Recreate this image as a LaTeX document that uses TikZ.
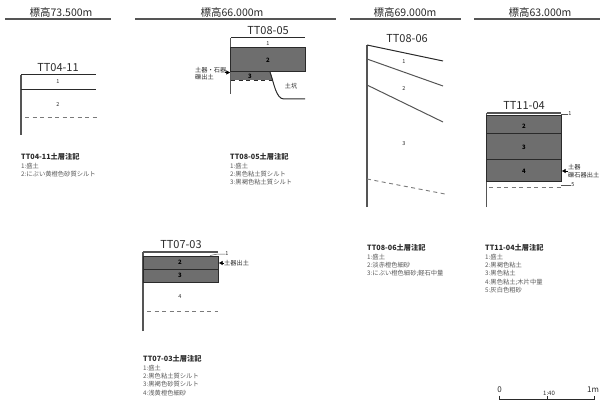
\documentclass[tikz,border=0pt]{standalone}
\usepackage{fontspec}
\setmainfont{Noto Sans CJK JP}
\usetikzlibrary{arrows.meta}
\definecolor{soil}{HTML}{6E6E6E}
\definecolor{ink}{HTML}{2A2A2A}
\definecolor{rule}{HTML}{555555}
\definecolor{cut}{HTML}{7A7A7A}
\tikzset{
  header/.style={font=\fontsize{10.5}{12}\selectfont,text=ink,inner sep=0pt},
  title/.style={font=\fontsize{11}{13}\selectfont,text=ink,inner sep=0pt},
  headline/.style={draw=rule,line width=1.2pt},
  axisline/.style={draw=rule,line width=1.2pt},
  layerline/.style={draw=ink,line width=1pt},
  cutline/.style={draw=cut,line width=.9pt,dash pattern=on 4pt off 3.5pt},
  darkbed/.style={fill=soil,draw=ink,line width=1pt},
  num/.style={font=\fontsize{5.5}{6}\selectfont,text=ink,inner sep=0pt},
  numb/.style={font=\fontsize{6}{6}\selectfont\bfseries,text=black,inner sep=0pt},
  note/.style={font=\fontsize{6.2}{7.6}\selectfont,text=ink,inner sep=0pt,align=left},
  findnote/.style={note,anchor=west,font=\fontsize{6.2}{7.4}\selectfont},
  legendhead/.style={font=\fontsize{7.2}{8}\selectfont\bfseries,text=ink,inner sep=0pt,anchor=west},
  legendbody/.style={font=\fontsize{6.3}{8.4}\selectfont,text=black!65,inner sep=0pt,anchor=north west,align=left},
  leader/.style={draw=rule,line width=.5pt},
  pointer/.style={-{Triangle[length=3.6pt,width=4pt]},draw=black,line width=.5pt},
}
\begin{document}
\begin{tikzpicture}[x=1pt,y=-1pt]
\useasboundingbox (0,0) rectangle (600,401);
% headers
\node[header] (h1) at (61,13) {標高73.500m};
\node[header] (h2) at (232,13) {標高66.000m};
\node[header] (h3) at (405,13) {標高69.000m};
\node[header] (h4) at (540,13) {標高63.000m};
\draw[headline] (5,19) -- (111,19);
\draw[headline] (135,19) -- (336,19);
\draw[headline] (350,19) -- (461,19);
\draw[headline] (474,19) -- (600,19);

% TT04-11
\node[title] (t1) at (58,68) {TT04-11};
\draw[axisline] (21,135) -- (21,75);
\draw[layerline] (21,75) -- (96,75);
\draw[layerline] (21,90) -- (96,90);
\draw[cutline] (25,117) -- (97,117);
\node[num] (a1) at (58,82) {1};
\node[num] (a2) at (58,105) {2};
\node[legendhead] (l1) at (21,157) {TT04-11土層注記};
\node[legendbody] (b1) at (21,162.5) {1:盛土\\2:にぶい黄橙色砂質シルト};

% TT08-05
\node[title] (t2) at (268,31) {TT08-05};
\draw[axisline] (230.5,94) -- (230.5,38);
\draw[layerline] (230.5,38) -- (305,38);
\fill[soil] (230.5,72) -- (270,72) -- (273,80) -- (230.5,80) -- cycle;
\draw[darkbed] (230.5,48) rectangle (305,72);
\draw[cutline,draw=ink] (231,80) -- (273,80);
\draw[layerline] (270,72) .. controls (274,83) and (276,99) .. (284,99) -- (305,99);
\node[num] (b21) at (268,44) {1};
\node[numb] (b22) at (268,60) {2};
\node[numb] (b23) at (250,76) {3};
\node[note] (pit) at (291,86) {土坑};
\node[findnote] (find2) at (195,73.5) {土器・石器\\礫出土};
\coordinate (find2tail) at (225,72.5);
\coordinate (find2tip) at (230,72.5);
\draw[pointer] (find2tail) -- (find2tip);
\node[legendhead] (l2) at (230,157) {TT08-05土層注記};
\node[legendbody] (b2) at (230,162.5) {1:盛土\\2:黒色粘土質シルト\\3:黒褐色粘土質シルト};

% TT08-06
\node[title] (t3) at (407,39) {TT08-06};
\draw[axisline] (367,207) -- (367,45);
\draw[layerline] (367,45) -- (443,61);
\draw[layerline,draw=rule] (367,59) -- (443,86);
\draw[layerline,draw=rule] (367,85) -- (443,122);
\draw[cutline] (367,179) -- (445,194);
\node[num] (c1) at (404,62) {1};
\node[num] (c2) at (404,89) {2};
\node[num] (c3) at (404,144) {3};
\node[legendhead] (l3) at (367,248) {TT08-06土層注記};
\node[legendbody] (b3) at (367,253.5) {1:盛土\\2:淡赤橙色細砂\\3:にぶい橙色細砂;軽石中量};

% TT11-04
\node[title] (t4) at (524,106) {TT11-04};
\draw[axisline] (486.5,207) -- (486.5,113);
\draw[axisline] (486.5,113) -- (561,113);
\draw[darkbed] (486.5,116) rectangle (561,182);
\draw[layerline] (486.5,134) -- (561,134);
\draw[layerline] (486.5,160) -- (561,160);
\draw[cutline] (489,187) -- (561,187);
\coordinate (lead1) at (561,114);
\coordinate (lead5) at (561,185);
\node[num] (d1) at (570,114) {1};
\node[num] (d5) at (573,185) {5};
\draw[leader] (lead1) -- (d1.west);
\draw[leader] (lead5) -- (d5.west);
\node[numb] (d2) at (524,126) {2};
\node[numb] (d3) at (524,147) {3};
\node[numb] (d4) at (524,171) {4};
\node[findnote] (find4) at (568,171) {土器\\礫石器出土};
\coordinate (find4tip) at (562,171);
\draw[pointer] (find4.west) -- (find4tip);
\node[legendhead] (l4) at (485,248) {TT11-04土層注記};
\node[legendbody] (b4) at (485,253.5) {1:盛土\\2:黒褐色粘土\\3:黒色粘土\\4:黒色粘土;木片中量\\5:灰白色粗砂};

% TT07-03
\node[title] (t5) at (181,245) {TT07-03};
\draw[axisline] (143,331) -- (143,252);
\draw[axisline] (143,252) -- (218,252);
\draw[darkbed] (143,256) rectangle (218,282);
\draw[layerline] (143,269) -- (218,269);
\draw[cutline] (147,311) -- (218,311);
\node[num] (e1) at (227,254) {1};
\coordinate (lead71) at (210,255.5);
\draw[leader] (lead71) -- (218,254) -- (e1.west);
\node[numb] (e2) at (180,262) {2};
\node[numb] (e3) at (180,275) {3};
\node[num] (e4) at (180,297) {4};
\node[findnote] (find7) at (224,263) {土器出土};
\coordinate (find7tip) at (219,263);
\draw[pointer] (find7.west) -- (find7tip);
\node[legendhead] (l5) at (143,359) {TT07-03土層注記};
\node[legendbody] (b5) at (143,364.5) {1:盛土\\2:黒色粘土質シルト\\3:黒褐色砂質シルト\\4:浅黄橙色細砂};

% scale
\node[header,font=\fontsize{8}{9}\selectfont] (s0) at (499.5,390) {0};
\node[header,font=\fontsize{8}{9}\selectfont] (s1) at (593,390) {1m};
\node[num,font=\fontsize{6}{7}\selectfont] (s2) at (549,393) {1:40};
\draw[draw=ink,line width=.6pt] (499.5,395.5) -- (499.5,399) -- (594,399) -- (594,395.5);
\draw[draw=ink,line width=.6pt] (547,396) -- (547,399);
\end{tikzpicture}
\end{document}
